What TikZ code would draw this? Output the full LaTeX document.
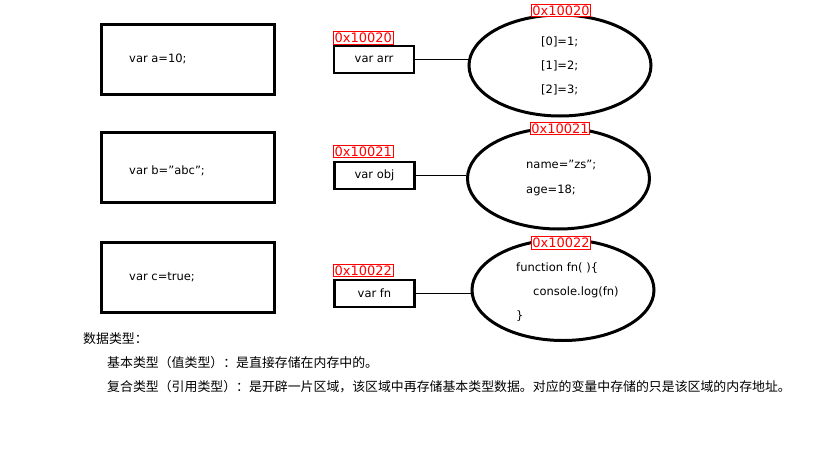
\documentclass[tikz,border=0pt]{standalone}
\usepackage{fontspec}
\setmainfont{DejaVu Sans}
\newfontfamily\cjk{Noto Sans CJK SC}
\usetikzlibrary{shapes.geometric}
\begin{document}
\begin{tikzpicture}[x=1pt,y=-1pt,
  bigbox/.style={draw,line width=3pt,minimum width=173pt,minimum height=70pt,inner sep=0pt},
  varbox/.style={draw,line width=2.6pt,minimum width=80pt,minimum height=27pt,inner sep=0pt,font=\fontsize{11.5}{13}\selectfont},
  addr/.style={draw=red,text=red,line width=0.8pt,inner sep=1.2pt,fill=white,font=\fontsize{13}{14}\selectfont},
  heap/.style={draw,ellipse,line width=3pt,minimum width=182pt,minimum height=101pt,inner sep=0pt},
  code/.style={anchor=west,inner sep=0pt,font=\fontsize{11.5}{13}\selectfont},
  zh/.style={anchor=west,inner sep=0pt,font=\cjk\fontsize{12.9}{14}\selectfont},
  link/.style={line width=0.8pt}]
\useasboundingbox (0,0) rectangle (820,450);
% left boxes
\node[bigbox] (ba) at (187.5,59.5) {};
\node[bigbox] (bb) at (187.5,167.5) {};
\node[bigbox] (bc) at (187.5,277) {};
\node[code] (ta) at (129,59) {var a=10;};
\node[code] (tb) at (129,171) {var b="abc";};
\node[code] (tc) at (129,277) {var c=true;};
% variable boxes
\node[varbox] (va) at (374,59.5) {var arr};
\node[varbox] (vb) at (374.5,175.5) {var obj};
\node[varbox] (vc) at (374.5,293.5) {var fn};
\node[addr,anchor=south west] (la) at (333,44.5) {0x10020};
\node[addr,anchor=south west] (lb) at (333,158) {0x10021};
\node[addr,anchor=south west] (lc) at (333,277) {0x10022};
% heap ellipses
\node[heap] (ea) at (560,65.5) {};
\node[heap] (eb) at (558.5,178.5) {};
\node[heap] (ec) at (563,290) {};
\draw[link] (va.east) -- (ea.west |- va.east);
\draw[link] (vb.east) -- (eb.west |- vb.east);
\draw[link] (vc.east) -- (ec.west |- vc.east);
\node[addr] (ha) at (561,10.5) {0x10020};
\node[addr] (hb) at (560,128.5) {0x10021};
\node[addr] (hc) at (561,243) {0x10022};
% heap contents
\node[code] (a0) at (541,42) {[0]=1;};
\node[code] (a1) at (541,66) {[1]=2;};
\node[code] (a2) at (541,90) {[2]=3;};
\node[code] (o1) at (526,165) {name="zs";};
\node[code] (o2) at (526,190) {age=18;};
\node[code] (f1) at (516,268) {function fn( )\{};
\node[code] (f2) at (533,292) {console.log(fn)};
\node[code] (f3) at (516,316) {\}};
% notes
\node[zh] (n1) at (83,339) {数据类型：};
\node[zh] (n2) at (107,363) {基本类型（值类型）：是直接存储在内存中的。};
\node[zh] (n3) at (107,387) {复合类型（引用类型）：是开辟一片区域，该区域中再存储基本类型数据。对应的变量中存储的只是该区域的内存地址。};
\end{tikzpicture}
\end{document}
